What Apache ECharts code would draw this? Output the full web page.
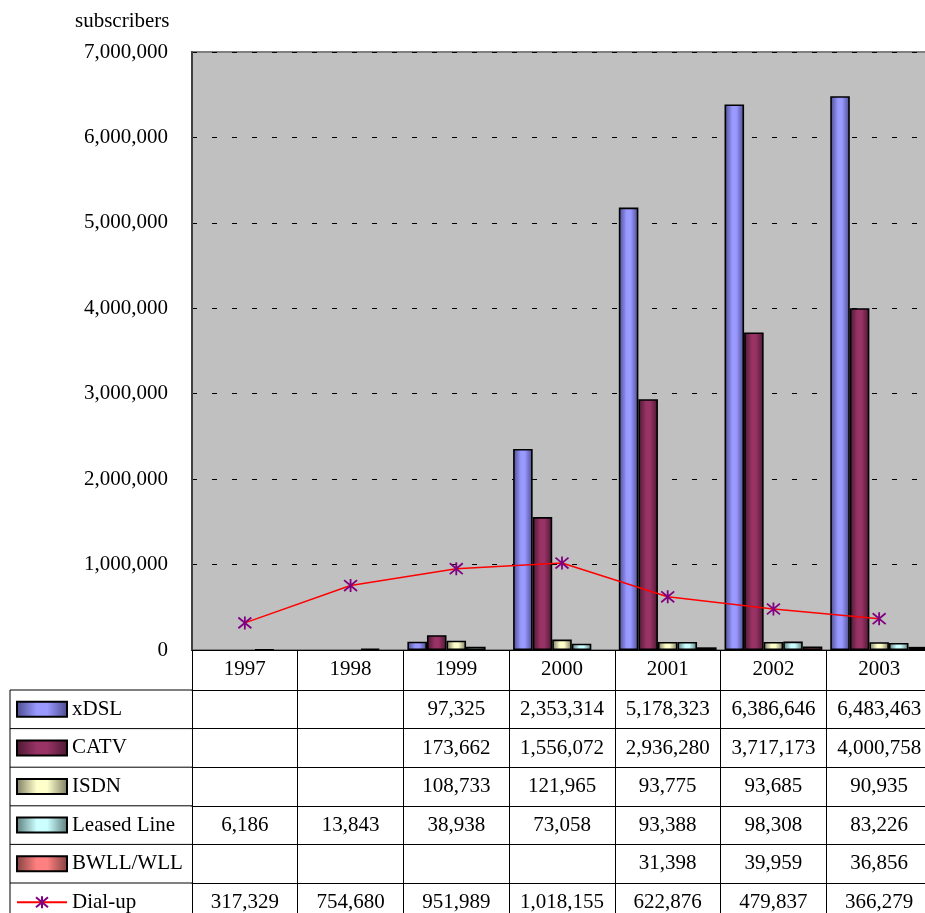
<!DOCTYPE html>
<html>
<head>
<meta charset="utf-8">
<script src="https://cdn.jsdelivr.net/npm/echarts@6/dist/echarts.min.js"></script>
<style>html,body{margin:0;padding:0;background:#fff;overflow:hidden}#c{width:932px;height:913px}</style>
</head>
<body>
<div id="c"></div>
<script>
const years = ['1997', '1998', '1999', '2000', '2001', '2002', '2003'];
const seriesNames = ['xDSL', 'CATV', 'ISDN', 'Leased Line', 'BWLL/WLL', 'Dial-up'];
const xdsl = [null, null, 97325, 2353314, 5178323, 6386646, 6483463];
const catv = [null, null, 173662, 1556072, 2936280, 3717173, 4000758];
const isdn = [null, null, 108733, 121965, 93775, 93685, 90935];
const leased = [6186, 13843, 38938, 73058, 93388, 98308, 83226];
const bwll = [null, null, null, null, 31398, 39959, 36856];
const dialup = [317329, 754680, 951989, 1018155, 622876, 479837, 366279];
const tableRows = [xdsl, catv, isdn, leased, bwll, dialup];

const FONT = 'Liberation Serif';
const FS = 21;
const HEADER_H = 40;
const ROW_H = 38.6;
const PLOT_BOTTOM = 650;

const fmt = v => (v === null || v === undefined) ? '' : Number(v).toLocaleString('en-US');

function grad(dark, light) {
  return new echarts.graphic.LinearGradient(0, 0, 1, 0, [
    {offset: 0, color: dark},
    {offset: 0.4, color: light},
    {offset: 0.6, color: light},
    {offset: 1, color: dark}
  ]);
}
const barColors = [
  grad('#4a4a8c', '#9999ff'),
  grad('#4a1830', '#993366'),
  grad('#7a7a60', '#ffffcc'),
  grad('#5a7a7a', '#ccffff'),
  grad('#804040', '#ff8080')
];
const barData = [xdsl, catv, isdn, leased, bwll];

const chart = echarts.init(document.getElementById('c'));

const xAxes = [{
  type: 'category', data: years, gridIndex: 0, position: 'bottom',
  axisLine: {show: true, lineStyle: {color: '#000', width: 1}},
  axisTick: {show: true, length: 263, lineStyle: {color: '#000', width: 1}},
  axisLabel: {interval: 0, margin: 9, fontFamily: FONT, fontSize: FS, color: '#000'}
}];
tableRows.forEach((row, i) => {
  xAxes.push({
    type: 'category', data: years, gridIndex: 0, position: 'bottom',
    offset: HEADER_H + ROW_H * i,
    axisLine: {show: true, lineStyle: {color: '#000', width: 1}},
    axisTick: {show: false},
    axisLabel: {interval: 0, margin: 9, fontFamily: FONT, fontSize: FS, color: '#000',
      formatter: (v, idx) => fmt(row[idx])}
  });
});

const graphics = [];
for (let i = 0; i < tableRows.length; i++) {
  const y = PLOT_BOTTOM + HEADER_H + ROW_H * i;
  graphics.push({type: 'line', shape: {x1: 10, y1: y, x2: 192, y2: y}, style: {stroke: '#000', lineWidth: 1}, silent: true});
}
graphics.push({type: 'line', shape: {x1: 10, y1: PLOT_BOTTOM + HEADER_H, x2: 10, y2: 913}, style: {stroke: '#000', lineWidth: 1}, silent: true});

const series = barData.map((d, i) => ({
  name: seriesNames[i], type: 'bar', data: d,
  barGap: 0, barCategoryGap: '7.5%',
  itemStyle: {color: barColors[i], borderColor: '#000', borderWidth: 1.6}
}));
series.push({
  name: 'Dial-up', type: 'line', data: dialup, z: 5,
  symbol: 'path://M0,0L20,20M20,0L0,20M10,-2L10,22', symbolSize: 13,
  lineStyle: {color: '#ff0000', width: 1.5},
  itemStyle: {color: '#800080', borderColor: '#800080', borderWidth: 1.8}
});

const legendData = seriesNames.map((n, i) => i < 5 ? {name: n, icon: 'rect'} : {name: n});

chart.setOption({
  animation: false,
  title: {text: 'subscribers', left: 70, top: 6,
    textStyle: {fontFamily: FONT, fontSize: FS, fontWeight: 'normal', color: '#000'}},
  legend: {orient: 'vertical', left: 16, top: PLOT_BOTTOM + HEADER_H + ROW_H / 2 - FS / 2,
    height: 260, padding: 0,
    itemWidth: 50, itemHeight: 15, itemGap: ROW_H - FS, selectedMode: false,
    data: legendData,
    textStyle: {fontFamily: FONT, fontSize: FS, color: '#000', lineHeight: FS}},
  grid: {left: 192, top: 52, right: 0, height: PLOT_BOTTOM - 52, show: true,
    backgroundColor: '#c0c0c0', borderWidth: 2, borderColor: '#808080'},
  xAxis: xAxes,
  yAxis: {type: 'value', min: 0, max: 7000000, interval: 1000000,
    axisLine: {show: true, lineStyle: {color: '#404040', width: 2}},
    axisTick: {show: false},
    axisLabel: {margin: 24, fontFamily: FONT, fontSize: FS, color: '#000', formatter: v => fmt(v)},
    splitLine: {show: true, lineStyle: {color: '#000', width: 1, type: [5, 15]}}},
  series: series,
  graphic: graphics
});
</script>
</body>
</html>
